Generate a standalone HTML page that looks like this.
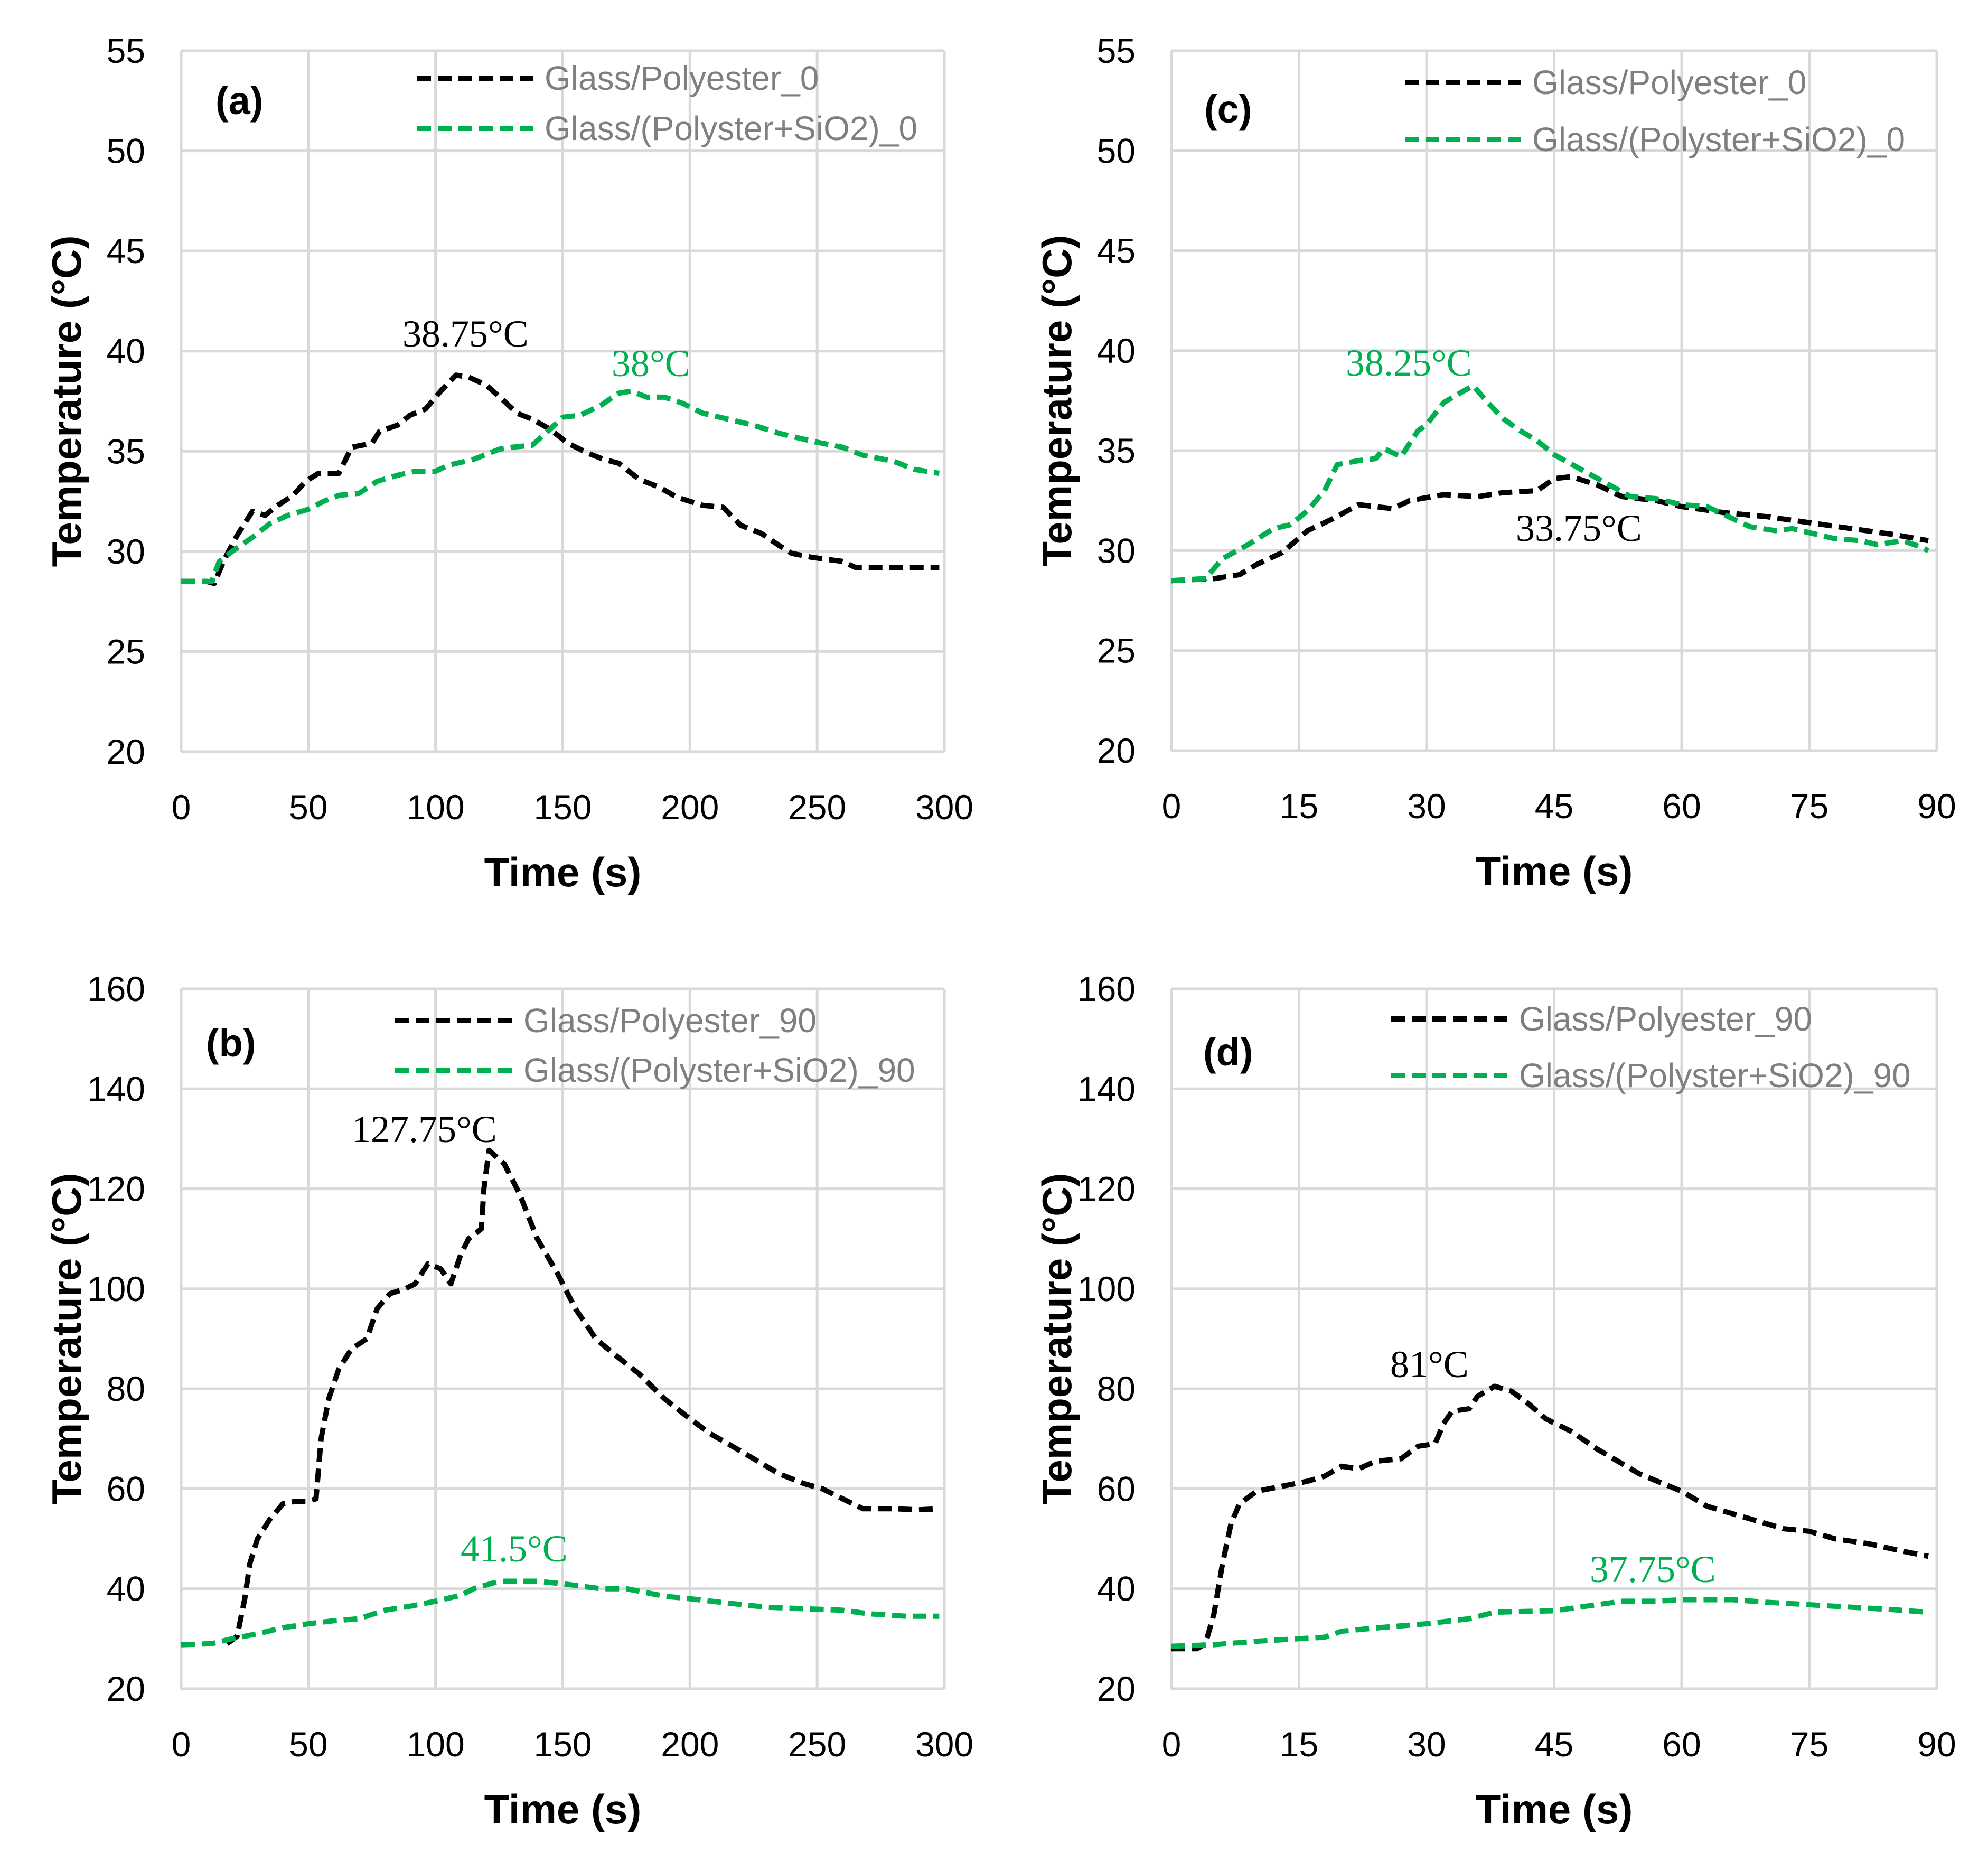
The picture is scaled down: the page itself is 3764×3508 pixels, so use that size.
<!DOCTYPE html>
<html><head><meta charset="utf-8"><style>
html,body{margin:0;padding:0;background:#fff}
svg{display:block}
</style></head><body>
<svg id="fig" xmlns="http://www.w3.org/2000/svg" width="3764" height="3508" viewBox="0 0 3764 3508" font-family="Liberation Sans, Arial, sans-serif"></svg>
<script>
// Panel (a)
const aTimeBlack=[0,10,13,17,22,28,33,38,44,49,54,62,67,75,78,85,90,96,102,108,113,120,127,132,138,145,152,160,166,172,180,188,195,200,205,213,220,228,235,240,248,260,265,280,298];
const aTempBlack=[28.5,28.5,28.4,29.6,30.8,32,31.8,32.3,32.8,33.5,33.9,33.9,35.2,35.4,36,36.3,36.8,37.1,38,38.8,38.7,38.3,37.5,36.9,36.6,36.1,35.4,34.9,34.6,34.4,33.6,33.2,32.7,32.5,32.3,32.2,31.3,30.9,30.3,29.9,29.7,29.5,29.2,29.2,29.2];
const aTimeGreen=[0,12,15,20,28,35,42,50,56,62,70,77,85,92,100,105,115,125,130,138,145,150,157,165,172,177,183,190,197,205,215,225,235,248,260,268,280,288,298];
const aTempGreen=[28.5,28.5,29.5,30,30.7,31.4,31.8,32.1,32.5,32.8,32.9,33.5,33.8,34,34,34.3,34.6,35.1,35.2,35.3,36.1,36.7,36.8,37.3,37.9,38,37.7,37.7,37.4,36.9,36.6,36.3,35.9,35.5,35.2,34.8,34.5,34.1,33.9];
// Panel (c)
const cTimeBlack=[0,5,8,10,13,16,19,22,26,28,32,36,39,43,45,47,50,53,57,60,65,70,75,80,85,89];
const cTempBlack=[28.5,28.6,28.8,29.3,29.9,31,31.6,32.3,32.1,32.5,32.8,32.7,32.9,33,33.6,33.7,33.3,32.7,32.5,32.2,31.9,31.7,31.4,31.1,30.8,30.5];
const cTimeGreen=[0,4,6,9,12,14,16,18,19.5,22,24,25,27,29,30,32,34,35.5,37,39,41,43,45,48,51,54,57,60,63,66,68,71,73,75,78,81,83,86,88,89];
const cTempGreen=[28.5,28.6,29.6,30.3,31.1,31.3,32,33,34.3,34.5,34.6,35.1,34.7,36,36.3,37.4,37.9,38.25,37.5,36.6,36,35.5,34.8,34.1,33.4,32.7,32.6,32.3,32.2,31.6,31.2,31,31.1,30.9,30.6,30.5,30.3,30.5,30.2,30];
// Panel (b)
const bTimeBlack=[18,22,25,27,30,35,40,45,50,53,55,58,62,67,73,77,82,88,92,97,102,106,110,113,118,119,121,127,133,140,148,155,163,170,180,190,200,208,215,225,235,245,252,260,268,280,290,298];
const bTempBlack=[29,30.5,38,45,50,54,57,57.5,57.5,58,70,78,84,88,90,96,99,100,101,105,104,101,107,110,112,120,127.7,125,119,110,103,96,90,87,83,78,74,71,69,66,63,61,60,58,56,56,55.8,56];
const bTimeGreen=[0,12,20,30,40,50,60,70,80,90,100,110,115,125,140,150,165,175,190,200,212,230,245,260,270,285,298];
const bTempGreen=[28.8,29,30,31,32.2,33,33.6,34,35.7,36.5,37.5,38.7,40,41.5,41.5,41,40,40,38.5,38,37.3,36.3,36,35.7,35,34.5,34.5];
// Panel (d)
const dTimeBlack=[0,3,4,5,6,7,8,10,13,16,18,20,22,24,27,29,31,32,33,35,36,38,40,42,44,47,50,55,60,63,68,72,75,78,82,86,89];
const dTempBlack=[28,28,29,35,45,53,57,59.5,60.5,61.5,62.5,64.5,64,65.5,66,68.5,69,73,75.5,76,78.5,80.5,79.5,77,74,71.5,68,63,59.5,56.5,54,52,51.5,50,49,47.5,46.5];
const dTimeGreen=[0,5,10,18,20,25,30,35,38,45,50,53,57,60,66,70,75,80,85,89];
const dTempGreen=[28.5,28.8,29.5,30.3,31.5,32.3,33,34,35.3,35.6,36.8,37.5,37.5,37.8,37.8,37.3,36.8,36.3,35.8,35.3];
// Ticks
const ticksY0=[20,25,30,35,40,45,50,55];
const ticksY90=[20,40,60,80,100,120,140,160];
const ticksX300=[0,50,100,150,200,250,300];
const ticksX90=[0,15,30,45,60,75,90];

const NS='http://www.w3.org/2000/svg';
const svg=document.getElementById('fig');
function mk(tag,attrs,parent){const e=document.createElementNS(NS,tag);for(const k in attrs)e.setAttribute(k,attrs[k]);(parent||svg).appendChild(e);return e;}

function panel(id,box,xMax,yMin,yMax,xt,yt,series,legend,label,annots){
  const g=mk('g',{});
  
  
  const sx=v=>box.L+(v/xMax)*(box.R-box.L);
  const sy=v=>box.B-(v-yMin)/(yMax-yMin)*(box.B-box.T);
  yt.forEach(v=>{
    const l=mk('line',{x1:box.L,x2:box.R,y1:sy(v),y2:sy(v),stroke:'#d9d9d9','stroke-width':5},g);
    
    
    const t=mk('text',{x:box.L-68,y:sy(v)+23,'text-anchor':'end','font-size':66,fill:'#000'},g);
    t.textContent=v;
    
    
  });
  xt.forEach(v=>{
    const l=mk('line',{x1:sx(v),x2:sx(v),y1:box.T,y2:box.B,stroke:'#d9d9d9','stroke-width':5},g);
    
    
    const t=mk('text',{x:sx(v),y:box.B+128,'text-anchor':'middle','font-size':66,fill:'#000'},g);
    t.textContent=v;
    
    
  });
  const xt2=mk('text',{x:(box.L+box.R)/2,y:box.B+255,'text-anchor':'middle','font-size':78,'font-weight':'bold',fill:'#000'},g);
  xt2.textContent='Time (s)';
  
  
  const cy=(box.T+box.B)/2;
  const yt2=mk('text',{x:box.L-190,y:cy,'text-anchor':'middle','font-size':78,'font-weight':'bold',fill:'#000',transform:`rotate(-90 ${box.L-190} ${cy})`},g);
  yt2.textContent='Temperature (°C)';
  
  
  series.forEach(s=>{
    const d=s.x.map((v,i)=>(i?'L':'M')+sx(v).toFixed(1)+' '+sy(s.y[i]).toFixed(1)).join(' ');
    const p=mk('path',{d:d,fill:'none',stroke:s.c,'stroke-width':10,'stroke-dasharray':'26 13','stroke-linejoin':'round'},g);
    
    
  });
  legend.forEach(e=>{
    const l=mk('line',{x1:e.x1,x2:e.x2,y1:e.y,y2:e.y,stroke:e.c,'stroke-width':10,'stroke-dasharray':'26 13'},g);
    
    
    const t=mk('text',{x:e.x2+22,y:e.y+22,'font-size':64,fill:'#7f7f7f'},g);
    t.textContent=e.t;
    
    
  });
  const pl=mk('text',{x:label.x,y:label.y+26,'font-size':74,'font-weight':'bold',fill:'#000'},g);
  pl.textContent=label.t;
  
  
  annots.forEach(a=>{
    const t=mk('text',{x:a.x,y:a.y+22,'font-size':72,fill:a.c,'font-family':'Liberation Serif, serif'},g);
    t.textContent=a.t;
    
    
  });
}
const G='#00b050';
panel('a',{L:343,R:1788,T:96,B:1423},300,20,55,ticksX300,ticksY0,
 [{x:aTimeBlack,y:aTempBlack,c:'#000',n:'series-glass-polyester-0'},{x:aTimeGreen,y:aTempGreen,c:G,n:'series-glass-polyester-sio2-0'}],
 [{x1:790,x2:1009,y:148,c:'#000',t:'Glass/Polyester_0'},{x1:790,x2:1009,y:243,c:G,t:'Glass/(Polyster+SiO2)_0'}],
 {x:408,y:190,t:'(a)'},
 [{x:762,y:634,c:'#000',t:'38.75°C'},{x:1158,y:690,c:G,t:'38°C'}]);
panel('c',{L:2218,R:3667,T:96,B:1421},90,20,55,ticksX90,ticksY0,
 [{x:cTimeBlack,y:cTempBlack,c:'#000',n:'series-glass-polyester-0'},{x:cTimeGreen,y:cTempGreen,c:G,n:'series-glass-polyester-sio2-0'}],
 [{x1:2660,x2:2879,y:156,c:'#000',t:'Glass/Polyester_0'},{x1:2660,x2:2879,y:264,c:G,t:'Glass/(Polyster+SiO2)_0'}],
 {x:2280,y:206,t:'(c)'},
 [{x:2548,y:689,c:G,t:'38.25°C'},{x:2870,y:1002,c:'#000',t:'33.75°C'}]);
panel('b',{L:343,R:1788,T:1872,B:3197},300,20,160,ticksX300,ticksY90,
 [{x:bTimeBlack,y:bTempBlack,c:'#000',n:'series-glass-polyester-90'},{x:bTimeGreen,y:bTempGreen,c:G,n:'series-glass-polyester-sio2-90'}],
 [{x1:748,x2:969,y:1932,c:'#000',t:'Glass/Polyester_90'},{x1:748,x2:969,y:2026,c:G,t:'Glass/(Polyster+SiO2)_90'}],
 {x:390,y:1974,t:'(b)'},
 [{x:666,y:2140,c:'#000',t:'127.75°C'},{x:872,y:2934,c:G,t:'41.5°C'}]);
panel('d',{L:2218,R:3667,T:1872,B:3197},90,20,160,ticksX90,ticksY90,
 [{x:dTimeBlack,y:dTempBlack,c:'#000',n:'series-glass-polyester-90'},{x:dTimeGreen,y:dTempGreen,c:G,n:'series-glass-polyester-sio2-90'}],
 [{x1:2634,x2:2854,y:1929,c:'#000',t:'Glass/Polyester_90'},{x1:2634,x2:2854,y:2036,c:G,t:'Glass/(Polyster+SiO2)_90'}],
 {x:2278,y:1991,t:'(d)'},
 [{x:2632,y:2585,c:'#000',t:'81°C'},{x:3010,y:2973,c:G,t:'37.75°C'}]);
</script>
</body></html>
